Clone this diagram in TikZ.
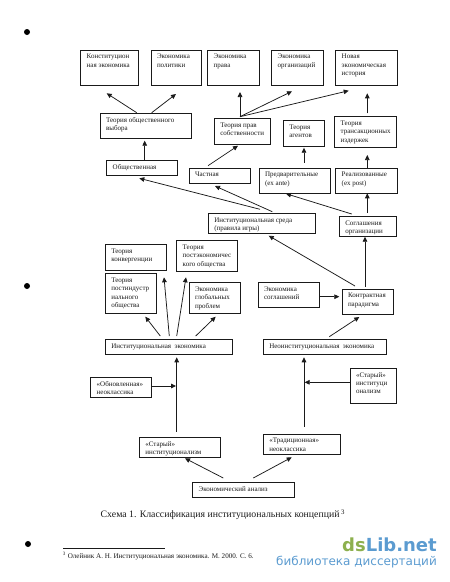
\documentclass[tikz,border=0pt]{standalone}
\usepackage{fontspec}
\setmainfont{Liberation Serif}
\newfontfamily\wmfont{DejaVu Sans}
\usetikzlibrary{arrows.meta,calc}
\definecolor{ink}{HTML}{1A1A1A}
\definecolor{wmgreen}{HTML}{8DB04E}
\definecolor{wmblue}{HTML}{5B9BD0}
\tikzset{
  bxstyle/.style={draw=ink,line width=0.8pt,inner sep=0pt,outer sep=0pt,text=ink,fill=white},
  arr/.style={draw=ink,line width=0.75pt,-{Triangle[length=5pt,width=4.6pt]}},
  dot/.style={circle,fill=black,inner sep=0pt,minimum size=6pt},
  plain/.style={inner sep=0pt,outer sep=0pt,anchor=west,text=ink}
}
\newcommand{\bx}[6]{%
  \pgfmathsetmacro{\bxw}{#4-#2}%
  \pgfmathsetmacro{\bxh}{#5-#3}%
  \pgfmathsetmacro{\bxcx}{(#2+#4)/2}%
  \pgfmathsetmacro{\bxcy}{(#3+#5)/2}%
  \node[bxstyle] (#1) at (\bxcx,\bxcy) {\parbox[c][\bxh pt][t]{\bxw pt}{%
    \fontsize{7}{8.2}\selectfont\leftskip=6pt\rightskip=0pt plus 1fil\parindent=0pt\rule{0pt}{8.9pt}#6}};%
}
\begin{document}
\begin{tikzpicture}[x=1pt,y=-1pt]
\useasboundingbox (0,0) rectangle (450,582);
\bx{kA}{80.7}{50}{138}{85}{Конституцион\\ная экономика}
\bx{kB}{151}{50}{201.7}{85}{Экономика\\политики}
\bx{kC}{207.7}{50}{259.3}{85}{Экономика\\права}
\bx{kD}{271.7}{50}{323.3}{85}{Экономика\\организаций}
\bx{kE}{335.7}{50}{397.3}{85}{Новая\\экономическая\\история}
\bx{vyb}{100}{113.3}{191.7}{138.3}{Теория общественного\\выбора}
\bx{prav}{214.3}{118.3}{270.7}{144.3}{Теория прав\\собственности}
\bx{agent}{283.3}{120.7}{324.7}{146.3}{Теория\\агентов}
\bx{trans}{334.7}{116.7}{396}{147.3}{Теория\\трансакционных\\издержек}
\bx{obsh}{106.7}{160.7}{177.7}{175.7}{Общественная}
\bx{chast}{189}{168}{250.3}{183.3}{Частная}
\bx{pred}{259}{168}{330.7}{193.3}{Предварительные\\(ex ante)}
\bx{real}{335.7}{168}{397.3}{193.3}{Реализованные\\(ex post)}
\bx{sreda}{208.3}{213.3}{315.3}{233.3}{Институциональная среда\\(правила игры)}
\bx{sogl}{339.3}{216.7}{396}{236.7}{Соглашения\\организации}
\bx{konv}{105.3}{244.3}{166.7}{270}{Теория\\конвергенции}
\bx{post}{176.7}{240.7}{237.3}{271}{Теория\\постэкономичес\\кого общества}
\bx{ind}{105.3}{273.7}{156.3}{313.7}{Теория\\постиндустр\\иального\\общества}
\bx{glob}{189}{282.7}{240}{313.3}{Экономика\\глобальных\\проблем}
\bx{esogl}{258}{282.7}{319.3}{307.7}{Экономика\\соглашений}
\bx{kontr}{342}{289}{393.3}{314.3}{Контрактная\\парадигма}
\bx{ie}{105.3}{339.7}{232.7}{354.7}{Институциональная\ \ экономика}
\bx{nie}{263.3}{339.7}{386}{354.7}{Неоинституциональная\ \ экономика}
\bx{obn}{90.7}{377.3}{151.7}{397.3}{«Обновленная»\\неоклассика}
\bx{stB}{350}{368.3}{396.7}{403.3}{«Старый»\\институци\\онализм}
\bx{stA}{139.3}{437.3}{220}{457}{«Старый»\\институционализм}
\bx{trad}{263.3}{434}{340.7}{454.3}{«Традиционная»\\неоклассика}
\bx{anl}{192.7}{482.7}{294.7}{497.3}{Экономический анализ}

\draw[arr] ($(vyb.north west)+(36.7,-0.6)$) -- ($(kA.north west)+(26,43.3)$);
\draw[arr] ($(vyb.north west)+(51.7,-0.6)$) -- ($(kB.north west)+(25,44)$);
\draw[arr] ($(prav.north west)+(25.7,-1.6)$) -- ($(kC.north west)+(32.3,42)$);
\draw[arr] ($(prav.north west)+(25.7,-1.6)$) -- ($(kD.north west)+(20.3,41.3)$);
\draw[arr] ($(prav.north west)+(25.7,-1.6)$) -- ($(kE.north west)+(13,40.7)$);
\draw[arr] ($(trans.north west)+(32.6,-3.4)$) -- ($(kE.north west)+(31.6,43.3)$);
\draw[arr] ($(chast.north west)+(19,-2.3)$) -- ($(prav.north west)+(23.7,27.4)$);
\draw[arr] ($(obsh.north west)+(38,0)$) -- ($(vyb.north west)+(44.7,27.4)$);
\draw[arr] ($(pred.north west)+(45,-5.3)$) -- ($(agent.north west)+(20.7,27)$);
\draw[arr] ($(real.north west)+(31.6,0)$) -- ($(trans.north west)+(32.6,38.3)$);
\draw[arr] ($(sreda.north west)+(51.7,-4)$) -- ($(obsh.north west)+(32.6,17.6)$);
\draw[arr] ($(sreda.north west)+(64,-1.6)$) -- ($(chast.north west)+(26,18)$);
\draw[arr] ($(sogl.north west)+(12.4,-2.7)$) -- ($(pred.north west)+(27,25.7)$);
\draw[arr] ($(sogl.north west)+(28,-4)$) -- ($(real.north west)+(31.6,25.3)$);
\draw[arr] ($(kontr.north west)+(13,-3)$) -- ($(sreda.north west)+(60.4,22.4)$);
\draw[arr] ($(kontr.north west)+(23,-2.3)$) -- ($(sogl.north west)+(25.7,20)$);
\draw[arr] ($(esogl.north west)+(61.3,14)$) -- ($(kontr.north west)+(-2.7,7.7)$);
\draw[arr] ($(nie.north west)+(66,-3)$) -- ($(kontr.north west)+(17.3,28)$);
\draw[arr] ($(ie.north west)+(55,-3.7)$) -- ($(ind.north west)+(40,43)$);
\draw[arr] ($(ie.north west)+(64,-3.7)$) -- ($(konv.north west)+(58.7,33)$);
\draw[arr] ($(ie.north west)+(71.4,-3.7)$) -- ($(post.north west)+(9.3,36.6)$);
\draw[arr] ($(ie.north west)+(90.4,-3.7)$) -- ($(glob.north west)+(26.7,34)$);
\draw[arr] ($(stA.north west)+(37.4,-5.6)$) -- ($(ie.north west)+(71.4,17.6)$);
\draw[arr] ($(obn.north west)+(61,8.7)$) -- ($(ie.north west)+(70.7,46.3)$);
\draw[arr] ($(trad.north west)+(40.7,-7.3)$) -- ($(nie.north west)+(40.7,17.6)$);
\draw[arr] ($(stB.north west)+(0,14)$) -- ($(nie.north west)+(41.4,42.6)$);
\draw[arr] ($(anl.north west)+(30.6,-4.7)$) -- ($(stA.north west)+(45.7,21)$);
\draw[arr] ($(anl.north west)+(60.6,-4.7)$) -- ($(trad.north west)+(28.4,23.3)$);

\node[plain] (caption) at (100.7,514.7) {\fontsize{9.8}{12}\selectfont Схема 1. Классификация институциональных концепций\,\textsuperscript{3}};
\coordinate (ruleL) at (63,548);
\coordinate (ruleR) at (165,548);
\draw[ink,line width=0.6pt] (ruleL) -- (ruleR);
\node[plain] (foot) at (63,556) {\fontsize{7.1}{8}\selectfont\textsuperscript{3} Олейник А. Н. Институциональная экономика. М. 2000. С. 6.};
\node[dot] (dotA) at (27,32) {};
\node[dot] (dotB) at (27,286) {};
\node[dot] (dotC) at (28,544) {};
\node[inner sep=0pt,anchor=east] (wmA) at (437,545) {\wmfont\fontsize{18}{21}\selectfont\bfseries\textcolor{wmgreen}{ds}\textcolor{wmblue}{Lib.net}};
\node[inner sep=0pt,anchor=east,text=wmblue] (wmB) at (437,561.7) {\wmfont\fontsize{12}{14}\selectfont библиотека диссертаций};
\end{tikzpicture}
\end{document}
